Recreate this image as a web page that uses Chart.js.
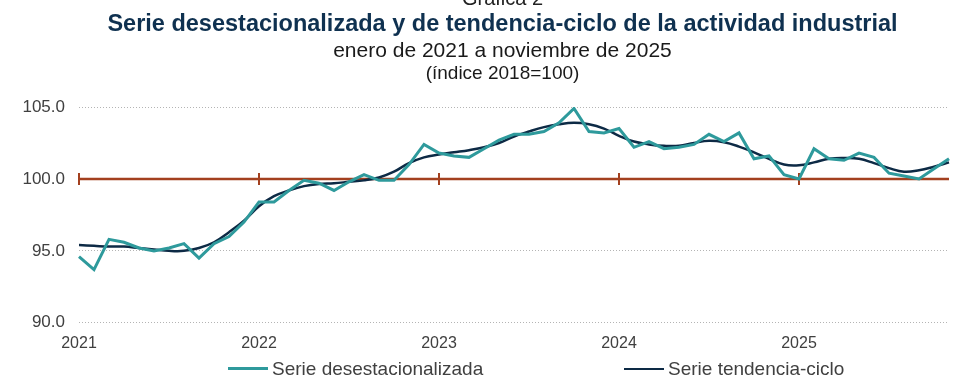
<!DOCTYPE html>
<html>
<head>
<meta charset="utf-8">
<script src="https://cdn.jsdelivr.net/npm/chart.js@4.4.1/dist/chart.umd.min.js"></script>
<style>
  body { margin: 0; background: #fff; font-family: "Liberation Sans", Arial, sans-serif; }
  #wrap { position: relative; width: 967px; height: 388px; overflow: hidden; }
  #chartCanvas { position: absolute; left: 0; top: 0; }
  .hdr { position: absolute; left: 19px; width: 967px; text-align: center; white-space: nowrap; line-height: 1.15; }
  #graf { top: -13px; font-size: 20px; color: #222; }
  #title { top: 10px; font-size: 23.5px; font-weight: bold; color: #0f3150; }
  #sub1 { top: 38px; font-size: 21px; color: #1a1a1a; }
  #sub2 { top: 62px; font-size: 19px; color: #1a1a1a; }
  .leg { position: absolute; top: 358px; font-size: 19px; color: #404040; white-space: nowrap; line-height: 1.15; }
  .leg i { display: inline-block; width: 40px; vertical-align: middle; margin-right: 4px; position: relative; top: -1px; }
</style>
</head>
<body>
<div id="wrap">
  <canvas id="chartCanvas" width="967" height="388"></canvas>
  <div class="hdr" id="graf">Gráfica 2</div>
  <div class="hdr" id="title">Serie desestacionalizada y de tendencia-ciclo de la actividad industrial</div>
  <div class="hdr" id="sub1">enero de 2021 a noviembre de 2025</div>
  <div class="hdr" id="sub2">(índice 2018=100)</div>
  <div class="leg" style="left:228px"><i style="border-top:3px solid #2e9a9c"></i>Serie desestacionalizada</div>
  <div class="leg" style="left:624px"><i style="border-top:2.5px solid #0d2a45"></i>Serie tendencia-ciclo</div>
</div>
<script>
// Datos: enero 2021 - noviembre 2025 (mensual)
const years = ['2021', '2022', '2023', '2024', '2025'];
const monthsInLastYear = 11;

const desestacionalizada = [
    94.6, 93.7, 95.8, 95.6, 95.2, 95.0, 95.2, 95.5, 94.5, 95.5, 96.0, 97.0,
    98.4, 98.4, 99.2, 99.9, 99.7, 99.2, 99.8, 100.3, 99.9, 99.9, 101.0, 102.4,
    101.8, 101.6, 101.5, 102.1, 102.7, 103.1, 103.1, 103.3, 103.9, 104.9, 103.3, 103.2,
    103.5, 102.2, 102.6, 102.1, 102.2, 102.4, 103.1, 102.6, 103.2, 101.4, 101.6, 100.3,
    100.0, 102.1, 101.4, 101.3, 101.8, 101.5, 100.4, 100.2, 100.0, 100.7, 101.4
];

const tendenciaCiclo = [
    95.4, 95.35, 95.3, 95.3, 95.2, 95.1, 95.0, 95.0, 95.2, 95.6, 96.3, 97.1,
    98.1, 98.8, 99.2, 99.5, 99.65, 99.7, 99.8, 99.9, 100.1, 100.5, 101.1, 101.5,
    101.7, 101.85, 102.0, 102.2, 102.5, 102.95, 103.3, 103.6, 103.8, 103.9, 103.8, 103.5,
    103.0, 102.6, 102.4, 102.3, 102.3, 102.5, 102.65, 102.55, 102.25, 101.85, 101.4, 101.0,
    100.95, 101.15, 101.4, 101.45, 101.4, 101.1, 100.75, 100.5, 100.6, 100.85, 101.15
];

const yTicks = [90, 95, 100, 105];
const refValue = 100;

// etiquetas mensuales (categorias)
const labels = [];
years.forEach((y, i) => {
    const n = i === years.length - 1 ? monthsInLastYear : 12;
    for (let m = 1; m <= n; m++) labels.push(y + '-' + String(m).padStart(2, '0'));
});

// linea de referencia en 100 con marcas en cada año
const refLinePlugin = {
    id: 'refLine',
    beforeDatasetsDraw(chart) {
        const { ctx, chartArea, scales } = chart;
        const yPix = scales.y.getPixelForValue(refValue);
        ctx.save();
        ctx.strokeStyle = '#a3401f';
        ctx.lineWidth = 2.5;
        ctx.beginPath();
        ctx.moveTo(chartArea.left, yPix);
        ctx.lineTo(chartArea.right, yPix);
        ctx.stroke();
        ctx.lineWidth = 2;
        labels.forEach((lab, i) => {
            if (lab.endsWith('-01')) {
                const x = scales.x.getPixelForValue(i);
                ctx.beginPath();
                ctx.moveTo(x, yPix - 6);
                ctx.lineTo(x, yPix + 6);
                ctx.stroke();
            }
        });
        ctx.restore();
    }
};

document.addEventListener('DOMContentLoaded', function () {
    const ctx = document.getElementById('chartCanvas').getContext('2d');
    new Chart(ctx, {
        type: 'line',
        data: {
            labels: labels,
            datasets: [
                {
                    label: 'Serie desestacionalizada',
                    data: desestacionalizada,
                    borderColor: '#2e9a9c',
                    borderWidth: 3,
                    pointRadius: 0,
                    tension: 0,
                    fill: false
                },
                {
                    label: 'Serie tendencia-ciclo',
                    data: tendenciaCiclo,
                    borderColor: '#0d2a45',
                    borderWidth: 2.5,
                    pointRadius: 0,
                    tension: 0.4,
                    fill: false
                }
            ]
        },
        options: {
            responsive: false,
            animation: false,
            layout: { padding: { top: 107, right: 18, bottom: 32, left: 0 } },
            plugins: {
                legend: { display: false },
                title: { display: false },
                tooltip: { enabled: false }
            },
            scales: {
                x: {
                    type: 'category',
                    offset: false,
                    grid: { display: false },
                    border: { display: false },
                    ticks: {
                        autoSkip: false,
                        maxRotation: 0,
                        padding: 3,
                        color: '#404040',
                        font: { family: 'Liberation Sans', size: 16 },
                        callback: function (val) {
                            const lab = labels[val];
                            return lab.endsWith('-01') ? lab.slice(0, 4) : '';
                        }
                    }
                },
                y: {
                    min: yTicks[0],
                    max: yTicks[yTicks.length - 1],
                    afterBuildTicks: function (axis) {
                        axis.ticks = yTicks.map(v => ({ value: v }));
                    },
                    afterFit: function (axis) {
                        axis.width = 79;
                    },
                    border: { display: false, dash: [1, 2] },
                    grid: {
                        color: '#b4b4b4',
                        lineWidth: 1,
                        drawTicks: false
                    },
                    ticks: {
                        padding: 14,
                        color: '#404040',
                        font: { family: 'Liberation Sans', size: 17 },
                        callback: v => v.toFixed(1)
                    }
                }
            }
        },
        plugins: [refLinePlugin]
    });
});
</script>
</body>
</html>
